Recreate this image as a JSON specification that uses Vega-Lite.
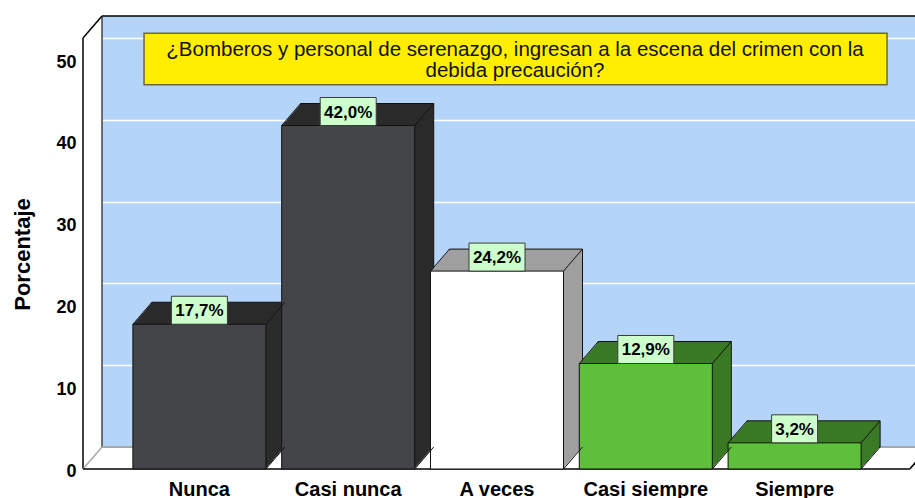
{
  "$schema": "https://vega.github.io/schema/vega-lite/v6.json",
  "width": 813,
  "height": 431,
  "autosize": {"type": "none"},
  "padding": {"left": 102, "top": 16, "right": 0, "bottom": 51},
  "background": "#ffffff",
  "config": {
    "font": "Liberation Sans",
    "view": {"fill": "#b4d4fa", "stroke": null},
    "axisY": {
      "grid": true, "gridColor": "#ffffff", "gridWidth": 1.5, "gridOpacity": 1,
      "domain": false, "ticks": false, "tickCount": 6,
      "labelPadding": 26, "labelOffset": 24, "labelFontSize": 18, "labelFontWeight": "bold",
      "labelColor": "#000000", "labelOverlap": false,
      "titleX": -80, "titleY": 238, "titleAngle": -90, "titleBaseline": "middle", "titleAlign": "center",
      "titleFontSize": 22, "titleFontWeight": "bold", "titleColor": "#000000"
    },
    "axisX": {
      "domain": false, "ticks": false, "grid": false, "labelAngle": 0,
      "labelFontSize": 20, "labelFontWeight": "bold", "labelColor": "#000000",
      "labelOffset": -19, "offset": 22, "labelPadding": 10
    }
  },
  "datasets": {
    "bars": [
      {"cat": "Nunca", "value": 17.7, "label": "17,7%"},
      {"cat": "Casi nunca", "value": 42.0, "label": "42,0%"},
      {"cat": "A veces", "value": 24.2, "label": "24,2%"},
      {"cat": "Casi siempre", "value": 12.9, "label": "12,9%"},
      {"cat": "Siempre", "value": 3.2, "label": "3,2%"}
    ]
  },
  "resolve": {"scale": {"x": "independent"}},
  "layer": [
    {
      "data": {"values": [{}]},
      "layer": [
        {"mark": {"type": "rule", "color": "#000000", "strokeWidth": 1.5},
         "encoding": {"x": {"datum": 0, "type": "quantitative", "scale": {"domain": [0, 1], "nice": false, "zero": false}, "axis": null},
                      "x2": {"datum": 1.05},
                      "y": {"datum": 52.7, "type": "quantitative", "scale": {"domain": [0, 52.7], "nice": false}, "title": "Porcentaje"}}},
        {"mark": {"type": "rule", "color": "#444444", "strokeWidth": 1.5},
         "encoding": {"x": {"datum": 0, "type": "quantitative", "scale": {"domain": [0, 1], "nice": false, "zero": false}, "axis": null},
                      "y": {"datum": 0, "type": "quantitative", "scale": {"domain": [0, 52.7], "nice": false}, "title": "Porcentaje"},
                      "y2": {"datum": 52.7}}},
        {"mark": {"type": "rule", "color": "#a8a8a8", "strokeWidth": 2},
         "encoding": {"x": {"datum": 0, "type": "quantitative", "scale": {"domain": [0, 1], "nice": false, "zero": false}, "axis": null},
                      "x2": {"datum": 1.05},
                      "y": {"datum": 0, "type": "quantitative", "scale": {"domain": [0, 52.7], "nice": false}, "title": "Porcentaje"}}},
        {"mark": {"type": "rule", "color": "#000000", "strokeWidth": 1.5, "xOffset": -19, "yOffset": 22},
         "encoding": {"x": {"datum": 0, "type": "quantitative", "scale": {"domain": [0, 1], "nice": false, "zero": false}, "axis": null},
                      "x2": {"datum": 0},
                      "y": {"datum": 52.7, "type": "quantitative", "scale": {"domain": [0, 52.7], "nice": false}, "title": "Porcentaje"},
                      "y2": {"datum": 52.7}}},
        {"mark": {"type": "rule", "color": "#000000", "strokeWidth": 1.5, "xOffset": -19, "yOffset": 22, "y2Offset": 22},
         "encoding": {"x": {"datum": 0, "type": "quantitative", "scale": {"domain": [0, 1], "nice": false, "zero": false}, "axis": null},
                      "y": {"datum": 0, "type": "quantitative", "scale": {"domain": [0, 52.7], "nice": false}, "title": "Porcentaje"},
                      "y2": {"datum": 52.7}}},
        {"mark": {"type": "rule", "color": "#a8a8a8", "strokeWidth": 1.5, "xOffset": -19, "yOffset": 22},
         "encoding": {"x": {"datum": 0, "type": "quantitative", "scale": {"domain": [0, 1], "nice": false, "zero": false}, "axis": null},
                      "x2": {"datum": 0},
                      "y": {"datum": 0, "type": "quantitative", "scale": {"domain": [0, 52.7], "nice": false}, "title": "Porcentaje"},
                      "y2": {"datum": 0}}},
        {"mark": {"type": "rule", "color": "#000000", "strokeWidth": 1.5, "xOffset": -19, "x2Offset": -19, "yOffset": 22},
         "encoding": {"x": {"datum": 0, "type": "quantitative", "scale": {"domain": [0, 1], "nice": false, "zero": false}, "axis": null},
                      "x2": {"datum": 1.017},
                      "y": {"datum": 0, "type": "quantitative", "scale": {"domain": [0, 52.7], "nice": false}, "title": "Porcentaje"}}},
        {"mark": {"type": "rule", "color": "#000000", "strokeWidth": 1.5, "xOffset": -19, "yOffset": 22},
         "encoding": {"x": {"datum": 1.017, "type": "quantitative", "scale": {"domain": [0, 1], "nice": false, "zero": false}, "axis": null},
                      "x2": {"datum": 1.017},
                      "y": {"datum": 0, "type": "quantitative", "scale": {"domain": [0, 52.7], "nice": false}, "title": "Porcentaje"},
                      "y2": {"datum": 0}}}
      ]
    },
    {
      "data": {"name": "bars"},
      "encoding": {
        "x": {"field": "cat", "type": "nominal", "sort": null, "title": null,
              "scale": {"domain": ["Nunca", "Casi nunca", "A veces", "Casi siempre", "Siempre"], "range": [42, 786], "paddingInner": 0.106, "paddingOuter": 0.053}},
        "y": {"field": "value", "type": "quantitative", "title": "Porcentaje",
              "scale": {"domain": [0, 52.7], "nice": false},
              "axis": {"values": [0, 10, 20, 30, 40, 50]}}
      },
      "layer": [
        {
          "encoding": {
            "fill": {"condition": [
              {"test": "datum.cat === 'A veces'", "value": "#9f9f9f"},
              {"test": "datum.cat === 'Casi siempre' || datum.cat === 'Siempre'", "value": "#3b7a25"}
            ], "value": "#2b2b2b"}
          },
          "layer": [
            {"mark": {"type": "bar", "xOffset": 0, "x2Offset": 0, "yOffset": 0, "y2Offset": 0, "stroke": "#111111", "strokeWidth": 1}},
            {"mark": {"type": "bar", "xOffset": -1, "x2Offset": -1, "yOffset": 1.158, "y2Offset": 1.158}},
            {"mark": {"type": "bar", "xOffset": -2, "x2Offset": -2, "yOffset": 2.316, "y2Offset": 2.316}},
            {"mark": {"type": "bar", "xOffset": -3, "x2Offset": -3, "yOffset": 3.474, "y2Offset": 3.474}},
            {"mark": {"type": "bar", "xOffset": -4, "x2Offset": -4, "yOffset": 4.632, "y2Offset": 4.632}},
            {"mark": {"type": "bar", "xOffset": -5, "x2Offset": -5, "yOffset": 5.789, "y2Offset": 5.789}},
            {"mark": {"type": "bar", "xOffset": -6, "x2Offset": -6, "yOffset": 6.947, "y2Offset": 6.947}},
            {"mark": {"type": "bar", "xOffset": -7, "x2Offset": -7, "yOffset": 8.105, "y2Offset": 8.105}},
            {"mark": {"type": "bar", "xOffset": -8, "x2Offset": -8, "yOffset": 9.263, "y2Offset": 9.263}},
            {"mark": {"type": "bar", "xOffset": -9, "x2Offset": -9, "yOffset": 10.421, "y2Offset": 10.421}},
            {"mark": {"type": "bar", "xOffset": -10, "x2Offset": -10, "yOffset": 11.579, "y2Offset": 11.579}},
            {"mark": {"type": "bar", "xOffset": -11, "x2Offset": -11, "yOffset": 12.737, "y2Offset": 12.737}},
            {"mark": {"type": "bar", "xOffset": -12, "x2Offset": -12, "yOffset": 13.895, "y2Offset": 13.895}},
            {"mark": {"type": "bar", "xOffset": -13, "x2Offset": -13, "yOffset": 15.053, "y2Offset": 15.053}},
            {"mark": {"type": "bar", "xOffset": -14, "x2Offset": -14, "yOffset": 16.211, "y2Offset": 16.211}},
            {"mark": {"type": "bar", "xOffset": -15, "x2Offset": -15, "yOffset": 17.368, "y2Offset": 17.368}},
            {"mark": {"type": "bar", "xOffset": -16, "x2Offset": -16, "yOffset": 18.526, "y2Offset": 18.526}},
            {"mark": {"type": "bar", "xOffset": -17, "x2Offset": -17, "yOffset": 19.684, "y2Offset": 19.684}},
            {"mark": {"type": "bar", "xOffset": -18, "x2Offset": -18, "yOffset": 20.842, "y2Offset": 20.842}}
          ]
        },
        {"mark": {"type": "bar", "xOffset": -19, "x2Offset": -19, "yOffset": 22, "y2Offset": 22, "stroke": "#111111", "strokeWidth": 1},
         "encoding": {
           "fill": {"condition": [
             {"test": "datum.cat === 'A veces'", "value": "#ffffff"},
             {"test": "datum.cat === 'Casi siempre' || datum.cat === 'Siempre'", "value": "#5dbf3a"}
           ], "value": "#444548"}
         }},
        {"mark": {"type": "rule", "color": "#111111", "strokeWidth": 1, "xOffset": -19, "yOffset": 22},
         "encoding": {
           "x": {"field": "cat", "type": "nominal", "sort": null, "title": null, "bandPosition": 0,
                 "scale": {"domain": ["Nunca", "Casi nunca", "A veces", "Casi siempre", "Siempre"], "range": [42, 786], "paddingInner": 0.106, "paddingOuter": 0.053}},
           "x2": {"field": "cat", "bandPosition": 0},
           "y2": {"field": "value"}
         }},
        {"mark": {"type": "rule", "color": "#111111", "strokeWidth": 1, "xOffset": -19, "yOffset": 22},
         "encoding": {
           "x": {"field": "cat", "type": "nominal", "sort": null, "title": null, "bandPosition": 1,
                 "scale": {"domain": ["Nunca", "Casi nunca", "A veces", "Casi siempre", "Siempre"], "range": [42, 786], "paddingInner": 0.106, "paddingOuter": 0.053}},
           "x2": {"field": "cat", "bandPosition": 1},
           "y2": {"field": "value"}
         }},
        {"mark": {"type": "rule", "color": "#111111", "strokeWidth": 1, "xOffset": -19, "yOffset": 22},
         "encoding": {
           "x": {"field": "cat", "type": "nominal", "sort": null, "title": null, "bandPosition": 1,
                 "scale": {"domain": ["Nunca", "Casi nunca", "A veces", "Casi siempre", "Siempre"], "range": [42, 786], "paddingInner": 0.106, "paddingOuter": 0.053}},
           "x2": {"field": "cat", "bandPosition": 1},
           "y": {"datum": 0, "type": "quantitative", "title": "Porcentaje", "scale": {"domain": [0, 52.7], "nice": false}},
           "y2": {"datum": 0}
         }},
        {"mark": {"type": "point", "filled": true, "fill": "#ccffcc", "stroke": "#3a3a3a", "strokeWidth": 1, "opacity": 1, "xOffset": -19, "yOffset": 8},
         "encoding": {
           "shape": {"condition": {"test": "length(datum.label) < 5", "value": "M-1,-0.609H1V0.609H-1Z"}, "value": "M-1,-0.5H1V0.5H-1Z"},
           "size": {"condition": {"test": "length(datum.label) < 5", "value": 2116}, "value": 3136}
         }},
        {"mark": {"type": "text", "xOffset": -19, "yOffset": 9, "fontSize": 17, "fontWeight": "bold", "baseline": "middle", "align": "center", "color": "#000000"},
         "encoding": {"text": {"field": "label"}}}
      ]
    },
    {
      "data": {"values": [{}]},
      "layer": [
        {"mark": {"type": "rect", "fill": "#ffee00", "stroke": "#6b6b30", "strokeWidth": 1.5},
         "encoding": {"x": {"datum": 0.0517, "type": "quantitative", "scale": {"domain": [0, 1], "nice": false, "zero": false}, "axis": null},
                      "x2": {"datum": 0.9656},
                      "y": {"datum": 50.6, "type": "quantitative", "scale": {"domain": [0, 52.7], "nice": false}, "title": "Porcentaje"},
                      "y2": {"datum": 44.3}}},
        {"mark": {"type": "text", "fontSize": 20.5, "lineHeight": 21, "align": "center", "baseline": "middle", "color": "#111111"},
         "encoding": {"x": {"datum": 0.508, "type": "quantitative", "scale": {"domain": [0, 1], "nice": false, "zero": false}, "axis": null},
                      "y": {"datum": 48.5, "type": "quantitative", "scale": {"domain": [0, 52.7], "nice": false}, "title": "Porcentaje"},
                      "text": {"value": ["¿Bomberos y personal de serenazgo, ingresan a la escena del crimen con la", "debida precaución?"]}}}
      ]
    }
  ]
}
